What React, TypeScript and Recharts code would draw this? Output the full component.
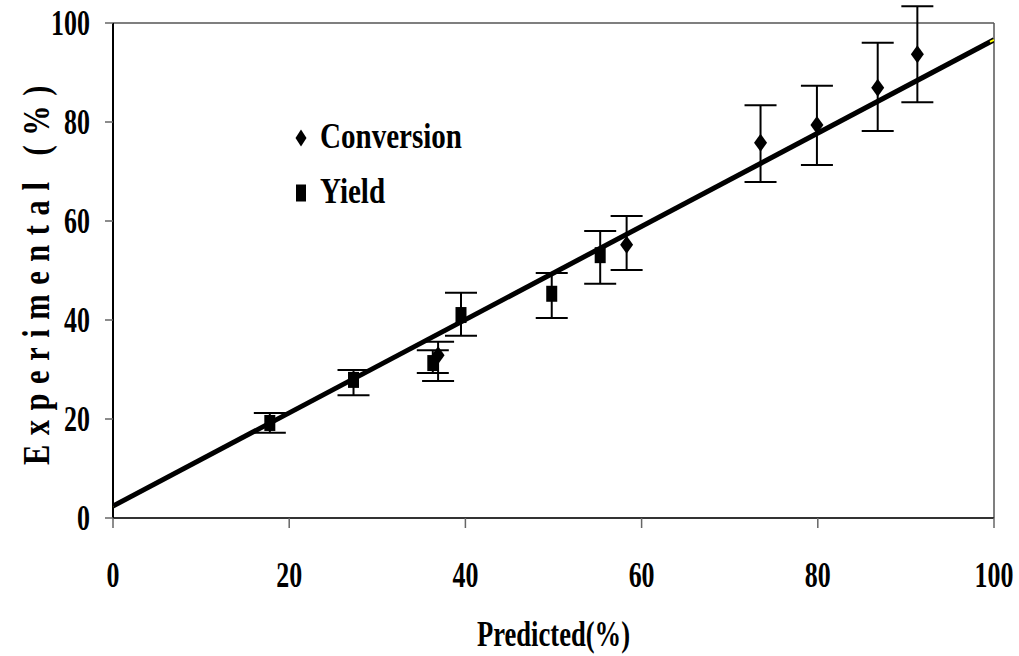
import { ScatterChart, Scatter, XAxis, YAxis, ErrorBar, ReferenceLine, Label } from "recharts";

const FONT = "'Liberation Serif', 'Times New Roman', serif";

// Conversion (%): predicted vs experimental, error bars as [below, above]
const conversionPredicted = [36.9, 58.3, 73.5, 79.9, 86.8, 91.3];
const conversionExperimental = [32.9, 55.2, 75.8, 79.4, 86.9, 93.7];
const conversionErrBelow = [5.2, 5.1, 7.9, 8.1, 8.7, 9.7];
const conversionErrAbove = [2.7, 5.8, 7.6, 7.9, 9.1, 9.7];

// Yield (%)
const yieldPredicted = [17.8, 27.3, 36.3, 39.5, 49.8, 55.3];
const yieldExperimental = [19.2, 27.9, 31.3, 41.0, 45.3, 53.1];
const yieldErrBelow = [2.0, 3.1, 2.0, 4.2, 4.9, 5.8];
const yieldErrAbove = [2.0, 2.0, 2.6, 4.5, 4.2, 4.9];

// linear fit through the data
const fitX = [0, 100];
const fitY = [2.4, 96.6];

const axisTicks = [0, 20, 40, 60, 80, 100];

const legendItems = [
  { name: "Conversion", marker: "diamond" },
  { name: "Yield", marker: "square" },
];

const conversionData = conversionPredicted.map((x, i) => ({
  x,
  y: conversionExperimental[i],
  err: [conversionErrBelow[i], conversionErrAbove[i]],
}));
const yieldData = yieldPredicted.map((x, i) => ({
  x,
  y: yieldExperimental[i],
  err: [yieldErrBelow[i], yieldErrAbove[i]],
}));
const fitData = fitX.map((x, i) => ({ x, y: fitY[i] }));

const diamondPath = (cx: number, cy: number, w: number, h: number) =>
  `M${cx},${cy - h / 2} L${cx + w / 2},${cy} L${cx},${cy + h / 2} L${cx - w / 2},${cy} Z`;

const Diamond = (props: any) => <path d={diamondPath(props.cx, props.cy, 13, 18)} fill="#000" />;
const Square = (props: any) => (
  <rect x={props.cx - 5.5} y={props.cy - 8} width={11} height={16} fill="#000" />
);
// trendline end markers
const FitEnd = (props: any) => (
  <path d={`M${props.cx - 4},${props.cy + 2} L${props.cx},${props.cy}`} stroke="#ff0" strokeWidth={2} />
);

const XTick = ({ x, y, payload }: any) => (
  <g transform={`translate(${x},${y + 57}) scale(0.72,1)`}>
    <text textAnchor="middle" fontFamily={FONT} fontWeight="bold" fontSize={36} fill="#000">
      {payload.value}
    </text>
  </g>
);

const YTick = ({ x, y, payload }: any) => (
  <g transform={`translate(${x - 13},${y + 12}) scale(0.72,1)`}>
    <text textAnchor="end" fontFamily={FONT} fontWeight="bold" fontSize={36} fill="#000">
      {payload.value}
    </text>
  </g>
);

const XTitle = ({ viewBox }: any) => (
  <g transform={`translate(${viewBox.x + viewBox.width / 2},${viewBox.y + 128}) scale(0.76,1)`}>
    <text textAnchor="middle" fontFamily={FONT} fontWeight="bold" fontSize={35} fill="#000">
      Predicted(%)
    </text>
  </g>
);

const YTitle = ({ viewBox }: any) => (
  <g transform={`translate(${viewBox.x - 4},${viewBox.y + viewBox.height / 2}) rotate(-90) scale(0.8,1)`}>
    <text
      textAnchor="middle"
      fontFamily={FONT}
      fontWeight="bold"
      fontSize={38}
      letterSpacing={12}
      fill="#000"
    >
      Experimental (%)
    </text>
  </g>
);

export default function App() {
  return (
    <div style={{ position: "absolute", left: 0, top: 0, width: 1019, height: 656, background: "#fff" }}>
      <ScatterChart width={1019} height={656} margin={{ top: 23, right: 25, bottom: 78, left: 53 }}>
        <XAxis
          type="number"
          dataKey="x"
          domain={[0, 100]}
          ticks={axisTicks}
          allowDataOverflow
          height={60}
          tickSize={10}
          tickLine={{ stroke: "#666", strokeWidth: 1.5 }}
          axisLine={{ stroke: "#333", strokeWidth: 2 }}
          tick={<XTick />}
        >
          <Label content={<XTitle />} />
        </XAxis>
        <YAxis
          type="number"
          dataKey="y"
          domain={[0, 100]}
          ticks={axisTicks}
          allowDataOverflow
          width={60}
          tickSize={8}
          tickLine={{ stroke: "#666", strokeWidth: 1.5 }}
          axisLine={{ stroke: "#000", strokeWidth: 2 }}
          tick={<YTick />}
        >
          <Label content={<YTitle />} />
        </YAxis>
        <ReferenceLine y={100} stroke="#555" strokeWidth={1.5} />
        <ReferenceLine x={100} stroke="#555" strokeWidth={1.5} />
        <Scatter
          data={fitData}
          line={{ stroke: "#000", strokeWidth: 5 }}
          shape={<FitEnd />}
          isAnimationActive={false}
        />
        <Scatter data={yieldData} shape={<Square />} isAnimationActive={false}>
          <ErrorBar dataKey="err" direction="y" width={16} stroke="#000" strokeWidth={2} />
        </Scatter>
        <Scatter data={conversionData} shape={<Diamond />} isAnimationActive={false}>
          <ErrorBar dataKey="err" direction="y" width={16} stroke="#000" strokeWidth={2} />
        </Scatter>
      </ScatterChart>
      <svg
        width={300}
        height={120}
        style={{ position: "absolute", left: 280, top: 110, pointerEvents: "none" }}
      >
        {legendItems.map((item, i) => {
          const cy = 28 + i * 55;
          return (
            <g key={item.name}>
              {item.marker === "diamond" ? (
                <path d={diamondPath(21, cy, 11, 17)} fill="#000" />
              ) : (
                <rect x={16} y={cy - 8.5} width={10} height={17} fill="#000" />
              )}
              <g transform={`translate(40,${cy + 10}) scale(0.83,1)`}>
                <text fontFamily={FONT} fontWeight="bold" fontSize={35} fill="#000">
                  {item.name}
                </text>
              </g>
            </g>
          );
        })}
      </svg>
    </div>
  );
}
